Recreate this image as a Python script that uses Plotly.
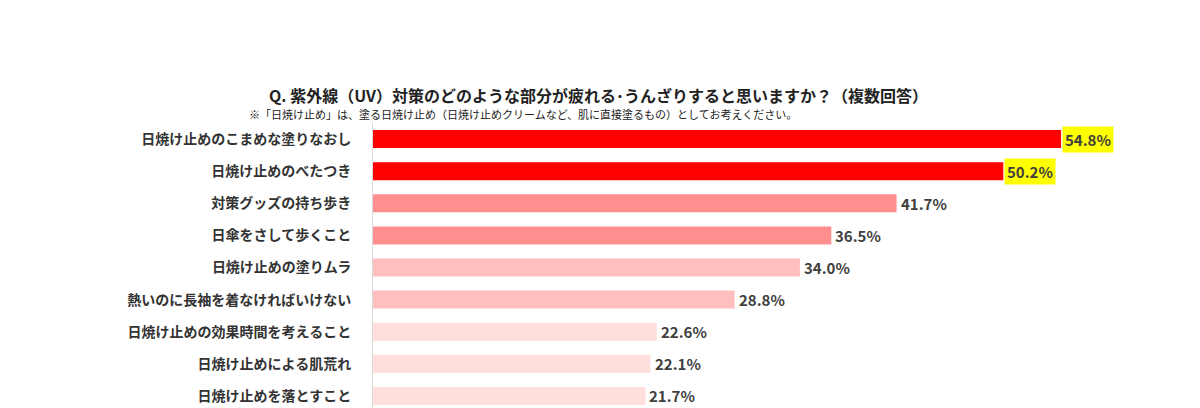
import plotly.graph_objects as go

# 回答項目と割合（%）
categories = [
    "日焼け止めのこまめな塗りなおし",
    "日焼け止めのべたつき",
    "対策グッズの持ち歩き",
    "日傘をさして歩くこと",
    "日焼け止めの塗りムラ",
    "熱いのに長袖を着なければいけない",
    "日焼け止めの効果時間を考えること",
    "日焼け止めによる肌荒れ",
    "日焼け止めを落とすこと",
]
values = [54.8, 50.2, 41.7, 36.5, 34.0, 28.8, 22.6, 22.1, 21.7]
colors = ["#FF0000", "#FF0000", "#FF8F8F", "#FF8F8F", "#FFBFBF", "#FFBFBF",
          "#FFDEDE", "#FFDEDE", "#FFDEDE"]
highlight = [True, True, False, False, False, False, False, False, False]

fig = go.Figure(go.Bar(
    x=values, y=categories, orientation="h",
    marker=dict(color=colors, line=dict(width=0)),
    width=0.56, hoverinfo="skip",
))

for c, v, h in zip(categories, values, highlight):
    fig.add_annotation(
        x=v, y=c, text=f"<b>{v:.1f}%</b>", showarrow=False,
        xanchor="left", xshift=1, font=dict(size=15, color="#404040"),
        bgcolor="#FFFF00" if h else "rgba(0,0,0,0)", borderpad=2,
    )

fig.add_annotation(
    xref="paper", yref="paper", x=0.27, y=1.145, xanchor="center",
    text="<b>Q. 紫外線（UV）対策のどのような部分が疲れる･うんざりすると思いますか？（複数回答）</b>",
    showarrow=False, font=dict(size=16, color="#222"),
)
fig.add_annotation(
    xref="paper", yref="paper", x=0.18, y=1.065, xanchor="center",
    text="※「日焼け止め」は、塗る日焼け止め（日焼け止めクリームなど、肌に直接塗るもの）としてお考えください。",
    showarrow=False, font=dict(size=11, color="#222"),
)

fig.update_layout(
    width=1200, height=408,
    margin=dict(l=365, r=0, t=115, b=4, autoexpand=False),
    plot_bgcolor="white", paper_bgcolor="white",
    font=dict(family="Noto Sans CJK JP", color="#333"),
    showlegend=False,
)
fig.update_xaxes(range=[0, 66.5], visible=False)
fig.update_yaxes(
    autorange="reversed", showline=True, linecolor="#D9D9D9", linewidth=1,
    ticks="", ticklabelstandoff=18, automargin=False,
    tickfont=dict(size=14, color="#333", weight="bold"),
)

fig.write_html("out.html")
